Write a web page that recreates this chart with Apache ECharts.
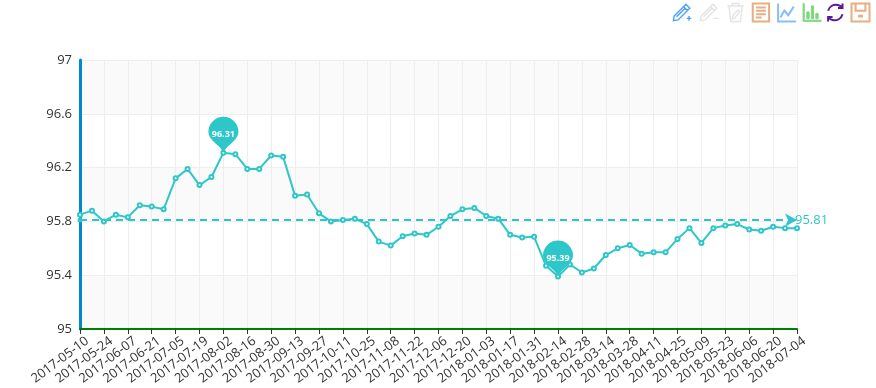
<!DOCTYPE html>
<html>
<head>
<meta charset="utf-8">
<script src="https://cdn.jsdelivr.net/npm/echarts@6/dist/echarts.min.js"></script>
<style>
  html, body { margin: 0; padding: 0; background: #fff; }
  #chart { width: 876px; height: 388px; }
</style>
</head>
<body>
<div id="chart"></div>
<script>
const dates = [
  "2017-05-10", "2017-05-17", "2017-05-24", "2017-05-31", "2017-06-07", "2017-06-14", "2017-06-21", "2017-06-28",
  "2017-07-05", "2017-07-12", "2017-07-19", "2017-07-26", "2017-08-02", "2017-08-09", "2017-08-16", "2017-08-23",
  "2017-08-30", "2017-09-06", "2017-09-13", "2017-09-20", "2017-09-27", "2017-10-04", "2017-10-11", "2017-10-18",
  "2017-10-25", "2017-11-01", "2017-11-08", "2017-11-15", "2017-11-22", "2017-11-29", "2017-12-06", "2017-12-13",
  "2017-12-20", "2017-12-27", "2018-01-03", "2018-01-10", "2018-01-17", "2018-01-24", "2018-01-31", "2018-02-07",
  "2018-02-14", "2018-02-21", "2018-02-28", "2018-03-07", "2018-03-14", "2018-03-21", "2018-03-28", "2018-04-04",
  "2018-04-11", "2018-04-18", "2018-04-25", "2018-05-02", "2018-05-09", "2018-05-16", "2018-05-23", "2018-05-30",
  "2018-06-06", "2018-06-13", "2018-06-20", "2018-06-27", "2018-07-04"
];
const values = [
  95.85, 95.88, 95.80, 95.85, 95.83, 95.92, 95.91, 95.89,
  96.12, 96.19, 96.07, 96.13, 96.31, 96.30, 96.19, 96.19,
  96.29, 96.28, 95.99, 96.00, 95.86, 95.80, 95.81, 95.82,
  95.78, 95.65, 95.62, 95.69, 95.71, 95.70, 95.76, 95.84,
  95.89, 95.90, 95.84, 95.82, 95.70, 95.68, 95.685, 95.47,
  95.39, 95.48, 95.42, 95.45, 95.55, 95.60, 95.625, 95.56,
  95.57, 95.57, 95.67, 95.75, 95.64, 95.75, 95.77, 95.78,
  95.74, 95.73, 95.76, 95.75, 95.75
];
const average = 95.81;

const teal = "#2ec7c9";
const labelFont = '"Open Sans", "Noto Sans", sans-serif';

// round head with a short point, the stock pin gets squashed at this height
const pinPath = "path://M15 36 C12 28 0 24 0 15 A15 15 0 1 1 30 15 C30 24 18 28 15 36 Z";

const pencil = "M2 17 L14 5 L19 10 L7 22 L1 23 Z M14 5 L17 2 L22 7 L19 10 M5 18 L16 7";
const icons = {
  zoomIn: "path://" + pencil + " M18 20 L24 20 M21 17 L21 23",
  zoomOut: "path://" + pencil + " M18 20 L24 20",
  clear: "path://M2 4 L22 4 M8 4 L8 1 L16 1 L16 4 M4 4 L6 23 L18 23 L20 4 M8 20 L9 15 L15 9 L17 11 L11 19 Z",
  dataView: "path://M2 1 L22 1 L22 23 L2 23 Z M6 6 L18 6 M6 10 L18 10 M6 14 L18 14 M6 18 L13 18",
  line: "path://M1 0 L1 23 L24 23 M4 18 L9 9 L14 15 L21 4",
  bar: "path://M0 0 L1.5 0 L1.5 22 L24 22 L24 23.5 L0 23.5 Z M5 20 L5 11 L8 11 L8 20 Z M11 20 L11 3 L14 3 L14 20 Z M17 20 L17 13 L20 13 L20 20 Z",
  restore: "path://M4 10 A9 9 0 0 1 20 7 M20 2 L20 7 L15 7 M20 14 A9 9 0 0 1 4 17 M4 22 L4 17 L9 17",
  save: "path://M1 1 L23 1 L23 23 L1 23 Z M6 1 L6 10 L18 10 L18 1 M9 16 L15 16 M9 17 L15 17"
};

function tool(name, icon, color, fill, width) {
  return {
    show: true,
    title: name,
    icon: icon,
    iconStyle: { color: fill || "none", borderColor: color, borderWidth: width || 2 },
    onclick: function () {}
  };
}

const chart = echarts.init(document.getElementById("chart"));

chart.setOption({
  animation: false,
  grid: { left: 80, right: 79, top: 60, bottom: 59 },
  toolbox: {
    show: true,
    right: -11,
    top: -14,
    itemSize: 18,
    itemGap: 4,
    feature: {
      myZoom: tool("zoom", icons.zoomIn, "#4aa3f5", null, 1.4),
      myBack: tool("back", icons.zoomOut, "#e4e4e4", null, 1.4),
      myClear: tool("clear", icons.clear, "#e4e4e4", null, 1.4),
      myDataView: tool("data view", icons.dataView, "#e8ad80"),
      myLine: tool("line", icons.line, "#85c1f5"),
      myBar: tool("bar", icons.bar, "#7fd67f", "#7fd67f", 1),
      myRestore: tool("restore", icons.restore, "#5a189a"),
      mySave: tool("save", icons.save, "#e8ad80")
    }
  },
  xAxis: {
    type: "category",
    boundaryGap: false,
    data: dates,
    axisLine: { lineStyle: { color: "#008000", width: 2 } },
    axisTick: { show: true, interval: 1, lineStyle: { color: "#333" } },
    axisLabel: { interval: 1, rotate: 37, color: "#333", fontSize: 13, fontFamily: labelFont, margin: 16, padding: [0, -9, 0, 0] },
    splitLine: { show: true, interval: 1, lineStyle: { color: "#eee" } }
  },
  yAxis: {
    type: "value",
    min: 95,
    max: 97,
    interval: 0.4,
    axisLine: { show: true, lineStyle: { color: "#008acd", width: 3 } },
    axisTick: { show: false },
    axisLabel: { color: "#333", fontSize: 13, fontFamily: labelFont, margin: 8 },
    splitLine: { show: true, lineStyle: { color: "#eee" } },
    splitArea: { show: true, areaStyle: { color: ["#fafafa", "#ffffff"] } }
  },
  series: [{
    type: "line",
    data: values,
    symbol: "emptyCircle",
    symbolSize: 4,
    showAllSymbol: true,
    lineStyle: { color: teal, width: 2 },
    itemStyle: { color: teal, borderColor: teal, borderWidth: 1.5 },
    markPoint: {
      z: 20,
      symbol: pinPath,
      symbolSize: [30, 36],
      symbolOffset: [0, -18],
      itemStyle: { color: teal },
      label: { color: "#fff", fontSize: 9, fontWeight: "bold", fontFamily: labelFont },
      data: [
        { type: "max", name: "max" },
        { type: "min", name: "min" }
      ]
    },
    markLine: {
      lineStyle: { color: teal, type: [7, 5], width: 2 },
      label: {
        color: teal,
        fontSize: 13,
        fontFamily: labelFont,
        position: "end",
        distance: -2,
        formatter: () => average.toFixed(2)
      },
      data: [[
        { xAxis: dates[0], yAxis: average, symbol: "circle", symbolSize: 5 },
        { xAxis: dates[dates.length - 1], yAxis: average, symbol: "arrow", symbolSize: [10, 12] }
      ]]
    }
  }]
});
</script>
</body>
</html>
